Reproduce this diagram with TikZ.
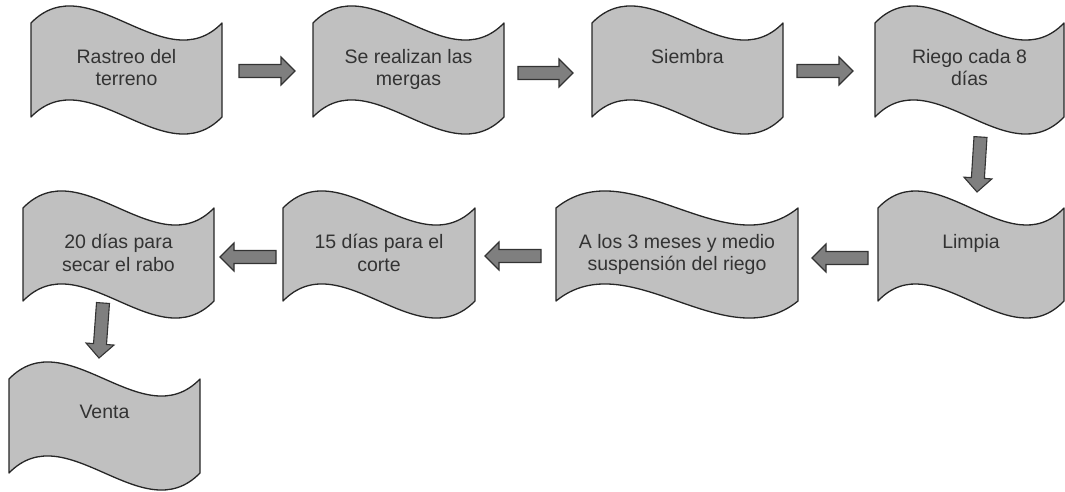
\documentclass[tikz,border=0pt]{standalone}
\usepackage{fontspec}
\setmainfont{Liberation Sans}
\usepackage{tikz}
\usetikzlibrary{positioning,calc}
\definecolor{tapefill}{HTML}{C0C0C0}
\definecolor{tapedraw}{HTML}{262626}
\definecolor{flowfill}{HTML}{7F7F7F}
\definecolor{flowdraw}{HTML}{333333}
\definecolor{ink}{HTML}{333333}

\tikzset{
  tapeframe/.style={rectangle,inner sep=0pt,outer sep=0pt},
  tapeline/.style={draw=tapedraw,fill=tapefill,line width=1.3pt,line join=round},
  tapetext/.style={font=\fontsize{19.5}{22.5}\selectfont,text=ink,align=center,inner sep=0pt},
  flowarrow/.style={draw=flowdraw,fill=flowfill,line width=1.1pt,
    to path={($(\tikztotarget)!14pt!(\tikztostart)$) coordinate (fa-base)
      ($(\tikztostart)!6.5pt!90:(\tikztotarget)$)
      -- ($(fa-base)!6.5pt!90:(\tikztotarget)$)
      -- ($(fa-base)!14pt!90:(\tikztotarget)$)
      -- (\tikztotarget)
      -- ($(fa-base)!14pt!-90:(\tikztotarget)$)
      -- ($(fa-base)!6.5pt!-90:(\tikztotarget)$)
      -- ($(\tikztostart)!6.5pt!-90:(\tikztotarget)$)
      -- cycle}}
}

% wavy tape box: name, left, right, top, bottom, text
\newcommand{\tapebox}[6]{%
  \pgfmathsetmacro{\tapew}{#3-#2}
  \pgfmathsetmacro{\tapeh}{#4-#5}
  \pgfmathsetmacro{\tapec}{0.3*\tapew}
  \node[tapeframe,minimum width=\tapew pt,minimum height=\tapeh pt] (#1) at ({(#2+#3)/2},{(#4+#5)/2}) {};
  \draw[tapeline] (#1.north west) .. controls +(\tapec,59) and +(-\tapec,-59) .. (#1.north east)
    -- (#1.south east) .. controls +(-\tapec,-59) and +(\tapec,59) .. (#1.south west) -- cycle;
  \node[tapetext,below=26pt of #1.north] (#1-text) {#6};
}

\begin{document}
\begin{tikzpicture}[x=1pt,y=1pt]
  \useasboundingbox (0,0) rectangle (1065,491);

  % Row 1
  \tapebox{rastreo}{31}{222}{468}{374}{Rastreo del\\terreno}
  \tapebox{mergas}{313}{504}{468}{374}{Se realizan las\\mergas}
  \tapebox{siembra}{592}{783}{468}{374}{Siembra}
  \tapebox{riego}{875}{1064}{468}{374}{Riego cada 8\\días}

  % Row 2
  \tapebox{limpia}{878}{1064}{283}{190}{Limpia}
  \tapebox{suspension}{556}{798}{283}{190}{A los 3 meses y medio\\suspensión del riego}
  \tapebox{corte}{283}{475}{283}{190}{15 días para el\\corte}
  \tapebox{secado}{23}{214}{283}{190}{20 días para\\secar el rabo}

  % Row 3
  \tapebox{venta}{9}{200}{112}{18}{Venta}

  % Arrows
  \draw[flowarrow] ([xshift=17pt,yshift=-1pt]rastreo.east) to ([xshift=-18pt,yshift=-1pt]mergas.west);
  \draw[flowarrow] ([xshift=14pt,yshift=-3pt]mergas.east) to ([xshift=-19pt,yshift=-3pt]siembra.west);
  \draw[flowarrow] ([xshift=14pt,yshift=-1pt]siembra.east) to ([xshift=-22pt,yshift=-1pt]riego.west);
  \draw[flowarrow] ([xshift=11pt,yshift=-20pt]riego.south) to ([xshift=6pt,yshift=16pt]limpia.north);
  \draw[flowarrow] ([xshift=-10pt,yshift=-3.5pt]limpia.west) to ([xshift=14pt,yshift=-3.5pt]suspension.east);
  \draw[flowarrow] ([xshift=-15pt,yshift=-1.5pt]suspension.west) to ([xshift=10pt,yshift=-1.5pt]corte.east);
  \draw[flowarrow] ([xshift=-7pt,yshift=-2.5pt]corte.west) to ([xshift=6pt,yshift=-2.5pt]secado.east);
  \draw[flowarrow] ([xshift=-15.5pt,yshift=-2pt]secado.south) to ([xshift=-5.5pt,yshift=21pt]venta.north);
\end{tikzpicture}
\end{document}
